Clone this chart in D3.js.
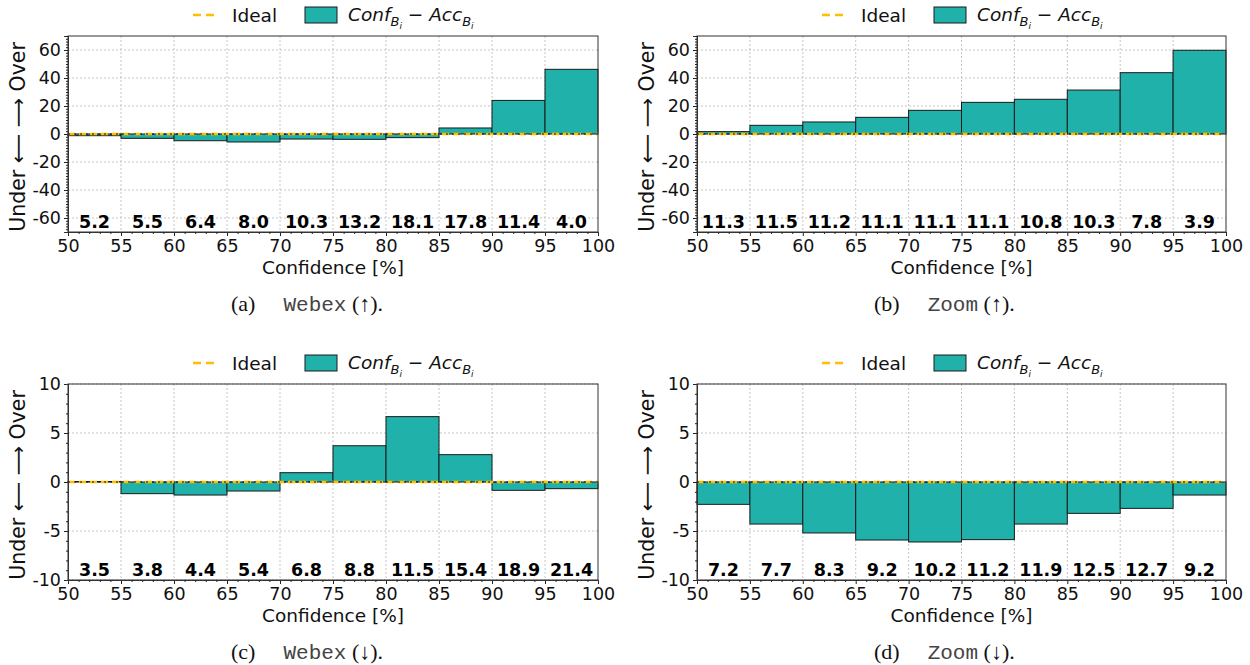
<!DOCTYPE html>
<html>
<head>
<meta charset="utf-8">
<script src="https://cdn.jsdelivr.net/npm/d3@7"></script>
<style>
  html, body { margin: 0; padding: 0; background: #fff; }
  svg { display: block; }
</style>
</head>
<body>
<svg id="chart" width="1250" height="665"></svg>
<script>
// ---------- DATA ----------
const binStarts = [50, 55, 60, 65, 70, 75, 80, 85, 90, 95];
const xTickLabels = [50, 55, 60, 65, 70, 75, 80, 85, 90, 95, 100];

const webexUpGap   = [-1.2, -3.1, -4.8, -5.7, -3.6, -3.8, -2.6, 4.3, 24.0, 46.2];
const webexUpCount = ["5.2", "5.5", "6.4", "8.0", "10.3", "13.2", "18.1", "17.8", "11.4", "4.0"];

const zoomUpGap   = [1.7, 6.2, 8.6, 11.9, 16.9, 22.6, 24.8, 31.4, 43.8, 59.8];
const zoomUpCount = ["11.3", "11.5", "11.2", "11.1", "11.1", "11.1", "10.8", "10.3", "7.8", "3.9"];

const webexDownGap   = [0.05, -1.19, -1.33, -0.92, 0.95, 3.7, 6.67, 2.79, -0.85, -0.68];
const webexDownCount = ["3.5", "3.8", "4.4", "5.4", "6.8", "8.8", "11.5", "15.4", "18.9", "21.4"];

const zoomDownGap   = [-2.28, -4.29, -5.2, -5.92, -6.12, -5.88, -4.29, -3.2, -2.69, -1.33];
const zoomDownCount = ["7.2", "7.7", "8.3", "9.2", "10.2", "11.2", "11.9", "12.5", "12.7", "9.2"];

const yTicksUp   = [-60, -40, -20, 0, 20, 40, 60];
const yTicksDown = [-10, -5, 0, 5, 10];

// ---------- DRAW ----------
const svg = d3.select("#chart");
const TEAL = "#20b2aa";
const GOLD = "#ffbf00";
const SANS = "DejaVu Sans, sans-serif";

function panel(opt) {
  const g = svg.append("g");
  const x = d3.scaleLinear().domain([50, 100]).range([opt.left, opt.right]);
  const y = d3.scaleLinear().domain(opt.yDomain).range([opt.bottom, opt.top]);

  // grid
  g.append("g").selectAll("line.vg").data(xTickLabels.slice(1, -1)).join("line")
    .attr("x1", d => x(d)).attr("x2", d => x(d))
    .attr("y1", opt.top).attr("y2", opt.bottom)
    .attr("stroke", "#b8b8b8").attr("stroke-width", 0.8).attr("stroke-dasharray", "2,2");
  g.append("g").selectAll("line.hg").data(opt.yTicks).join("line")
    .attr("x1", opt.left).attr("x2", opt.right)
    .attr("y1", d => y(d)).attr("y2", d => y(d))
    .attr("stroke", "#b8b8b8").attr("stroke-width", 0.8).attr("stroke-dasharray", "2,2");

  // bars
  g.append("g").selectAll("rect").data(binStarts.map((b, i) => ({b, v: opt.gap[i]}))).join("rect")
    .attr("x", d => x(d.b))
    .attr("width", d => x(d.b + 5) - x(d.b))
    .attr("y", d => y(Math.max(0, d.v)))
    .attr("height", d => Math.abs(y(d.v) - y(0)))
    .attr("fill", TEAL).attr("stroke", "#1a1a1a").attr("stroke-width", 1);

  // ideal line
  g.append("line").attr("x1", opt.left).attr("x2", opt.right)
    .attr("y1", y(0)).attr("y2", y(0))
    .attr("stroke", GOLD).attr("stroke-width", 2.5).attr("stroke-dasharray", "7,4");
  g.append("line").attr("x1", opt.left).attr("x2", opt.right)
    .attr("y1", y(0)).attr("y2", y(0))
    .attr("stroke", "#111").attr("stroke-width", 1).attr("stroke-dasharray", "2,4");

  // count labels
  g.append("g").selectAll("text").data(binStarts.map((b, i) => ({b, t: opt.counts[i]}))).join("text")
    .attr("x", d => x(d.b + 2.5)).attr("y", opt.bottom - 4)
    .attr("text-anchor", "middle")
    .attr("font-family", SANS).attr("font-weight", "bold").attr("font-size", 17.5)
    .attr("fill", "#000").text(d => d.t);

  // frame
  g.append("rect").attr("x", opt.left).attr("y", opt.top)
    .attr("width", opt.right - opt.left).attr("height", opt.bottom - opt.top)
    .attr("fill", "none").attr("stroke", "#333").attr("stroke-width", 1);

  // axes
  const xMinor = d3.range(50, 101, 1).filter(d => d % 5 !== 0);
  const yMinor = d3.range(opt.yDomain[0], opt.yDomain[1] + 0.001, opt.minorStep)
    .filter(d => !opt.yTicks.includes(d));

  const xa = g.append("g").attr("transform", `translate(0,${opt.bottom})`)
    .call(d3.axisBottom(x).tickValues(xTickLabels).tickFormat(d => String(d)).tickSize(4).tickPadding(3));
  const xm = g.append("g").attr("transform", `translate(0,${opt.bottom})`)
    .call(d3.axisBottom(x).tickValues(xMinor).tickFormat("").tickSize(2));
  const ya = g.append("g").attr("transform", `translate(${opt.left},0)`)
    .call(d3.axisLeft(y).tickValues(opt.yTicks).tickFormat(d => String(d)).tickSize(4).tickPadding(3));
  const ym = g.append("g").attr("transform", `translate(${opt.left},0)`)
    .call(d3.axisLeft(y).tickValues(yMinor).tickFormat("").tickSize(2));
  [xa, xm, ya, ym].forEach(a => {
    a.select(".domain").attr("stroke", "#333");
    a.selectAll(".tick line").attr("stroke", "#222");
    a.selectAll("text").attr("font-family", SANS).attr("font-size", 17.5).attr("fill", "#111");
  });
  xa.selectAll("text").attr("dy", "0.75em");

  // axis labels
  g.append("text").attr("x", (opt.left + opt.right) / 2).attr("y", opt.bottom + 42)
    .attr("text-anchor", "middle").attr("font-family", SANS).attr("font-size", 18.5)
    .attr("fill", "#111").text("Confidence [%]");
  g.append("text")
    .attr("transform", `translate(${opt.left - 43},${(opt.top + opt.bottom) / 2 + 3}) rotate(-90)`)
    .attr("text-anchor", "middle").attr("font-family", SANS).attr("font-size", 20.5)
    .attr("fill", "#111").text("Under \u27F5  \u27F6 Over");

  // legend
  const ly = opt.top - 21;
  const lx = opt.left;
  g.append("line").attr("x1", lx + 125).attr("x2", lx + 150).attr("y1", ly).attr("y2", ly)
    .attr("stroke", GOLD).attr("stroke-width", 2.5).attr("stroke-dasharray", "8,5");
  g.append("text").attr("x", lx + 164).attr("y", ly + 7).attr("font-family", SANS)
    .attr("font-size", 18.5).attr("fill", "#111").text("Ideal");
  g.append("rect").attr("x", lx + 237).attr("y", ly - 8).attr("width", 32).attr("height", 16)
    .attr("fill", TEAL).attr("stroke", "#1a1a1a").attr("stroke-width", 1);
  const lt = g.append("text").attr("x", lx + 280).attr("y", ly + 6).attr("font-family", SANS)
    .attr("font-size", 18.5).attr("font-style", "italic").attr("fill", "#111");
  lt.append("tspan").text("Conf");
  lt.append("tspan").attr("font-size", 13).attr("dy", 5).text("B");
  lt.append("tspan").attr("font-size", 9).attr("dy", 3).text("i");
  lt.append("tspan").attr("font-style", "normal").attr("dy", -8).text(" \u2212 ");
  lt.append("tspan").text("Acc");
  lt.append("tspan").attr("font-size", 13).attr("dy", 5).text("B");
  lt.append("tspan").attr("font-size", 9).attr("dy", 3).text("i");

  // caption
  const cap = g.append("text").attr("x", opt.capX).attr("y", opt.capY)
    .attr("font-family", "Liberation Serif, serif").attr("font-size", 22).attr("fill", "#111");
  cap.append("tspan").text(opt.capLetter);
  cap.append("tspan").attr("font-family", "Liberation Mono, monospace").attr("fill", "#444")
    .attr("font-size", 21).attr("dx", 28).text(opt.capName);
  cap.append("tspan").text(" " + opt.capArrow);
}

panel({left: 68, right: 598, top: 36, bottom: 232, yDomain: [-70, 70], yTicks: yTicksUp, minorStep: 2,
  gap: webexUpGap, counts: webexUpCount, capX: 231, capY: 311, capLetter: "(a)", capName: "Webex", capArrow: "(\u2191)."});
panel({left: 697, right: 1226, top: 36, bottom: 232, yDomain: [-70, 70], yTicks: yTicksUp, minorStep: 2,
  gap: zoomUpGap, counts: zoomUpCount, capX: 874, capY: 311, capLetter: "(b)", capName: "Zoom", capArrow: "(\u2191)."});
panel({left: 68, right: 598, top: 384, bottom: 580, yDomain: [-10, 10], yTicks: yTicksDown, minorStep: 1,
  gap: webexDownGap, counts: webexDownCount, capX: 231, capY: 659, capLetter: "(c)", capName: "Webex", capArrow: "(\u2193)."});
panel({left: 697, right: 1226, top: 384, bottom: 580, yDomain: [-10, 10], yTicks: yTicksDown, minorStep: 1,
  gap: zoomDownGap, counts: zoomDownCount, capX: 874, capY: 659, capLetter: "(d)", capName: "Zoom", capArrow: "(\u2193)."});
</script>
</body>
</html>
